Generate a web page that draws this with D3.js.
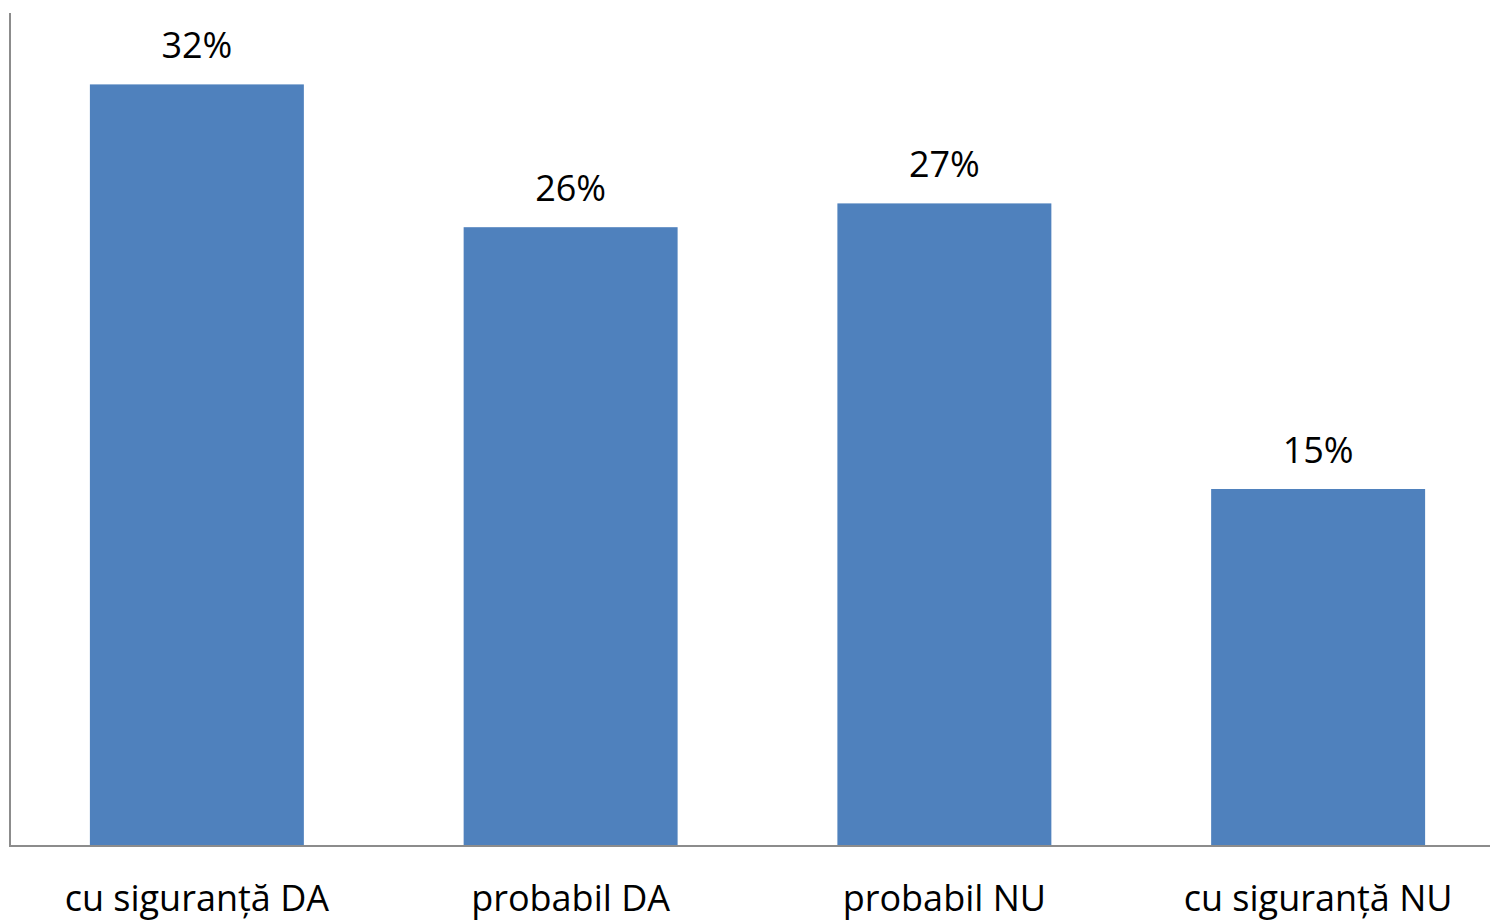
<!DOCTYPE html>
<html>
<head>
<meta charset="utf-8">
<script src="https://cdn.jsdelivr.net/npm/d3@7"></script>
<style>
  html, body { margin: 0; padding: 0; background: #fff; }
  svg { display: block; }
  text { font-family: "Open Sans", "Liberation Sans", sans-serif; fill: #000; }
</style>
</head>
<body>
<script>
const categories = ["cu siguranță DA", "probabil DA", "probabil NU", "cu siguranță NU"];
const values = [32, 26, 27, 15];
const valueLabels = ["32%", "26%", "27%", "15%"];
const yDomain = [0, 35];

(function () {
const W = 1490, H = 923;
const mLeft = 10, mBottom = 846, mTop = 13, mRight = 1505;

const svg = d3.select("body").append("svg").attr("width", W).attr("height", H);

const x = d3.scaleBand().domain(categories).range([mLeft, mRight])
  .paddingInner(0.4275).paddingOuter(0.21375);
const y = d3.scaleLinear().domain(yDomain).range([mBottom, mTop]);

svg.selectAll("rect.bar").data(values).enter().append("rect")
  .attr("class", "bar")
  .attr("x", (d, i) => x(categories[i]))
  .attr("width", x.bandwidth())
  .attr("y", d => y(d))
  .attr("height", d => y(0) - y(d))
  .attr("fill", "#4F81BD");

svg.append("line").attr("x1", mLeft).attr("x2", mLeft).attr("y1", y(yDomain[1])).attr("y2", mBottom)
  .attr("stroke", "#8c8c8c").attr("stroke-width", 2);
svg.append("line").attr("x1", mLeft - 1).attr("x2", W).attr("y1", mBottom).attr("y2", mBottom)
  .attr("stroke", "#8c8c8c").attr("stroke-width", 2);

svg.selectAll("text.val").data(values).enter().append("text")
  .attr("class", "val")
  .attr("x", (d, i) => x(categories[i]) + x.bandwidth() / 2)
  .attr("y", d => y(d) - 26)
  .attr("text-anchor", "middle")
  .attr("font-size", 36)
  .text((d, i) => valueLabels[i]);

svg.selectAll("text.cat").data(categories).enter().append("text")
  .attr("class", "cat")
  .attr("x", d => x(d) + x.bandwidth() / 2)
  .attr("y", 911)
  .attr("text-anchor", "middle")
  .attr("font-size", 36)
  .text(d => d);
})();
</script>
</body>
</html>
